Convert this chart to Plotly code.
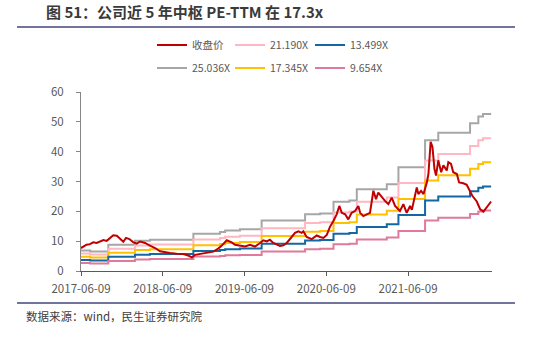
import plotly.graph_objects as go

# ---------------- data ----------------
band_dates = ["2017-06-09", "2017-07-20", "2017-10-09", "2018-02-05", "2018-04-13",
              "2018-10-24", "2019-02-20", "2019-03-15", "2019-05-20", "2019-08-25",
              "2020-03-06", "2020-05-12", "2020-07-11", "2020-09-20", "2020-10-23",
              "2021-03-06", "2021-04-27", "2021-08-24", "2021-10-22", "2022-03-13",
              "2022-04-19", "2022-05-10", "2022-06-15"]

pe_25036 = [6.9, 6.5, 8.8, 10.1, 10.5, 12.5, 13.1, 13.6, 14.0, 16.9, 19.0, 19.3, 23.2, 23.6,
            27.4, 29.1, 34.8, 43.8, 46.3, 49.5, 51.8, 52.6, 52.6]
pe_21190 = [5.84, 5.50, 7.45, 8.55, 8.89, 10.58, 11.09, 11.51, 11.85, 14.30, 16.08, 16.34,
            19.64, 19.98, 23.19, 24.63, 29.46, 37.07, 39.19, 41.90, 43.84, 44.52, 44.52]
pe_17345 = [4.78, 4.50, 6.10, 7.00, 7.27, 8.66, 9.08, 9.42, 9.70, 11.71, 13.16, 13.37,
            16.07, 16.35, 18.98, 20.16, 24.11, 30.34, 32.08, 34.29, 35.89, 36.44, 36.44]
pe_13499 = [3.72, 3.50, 4.74, 5.45, 5.66, 6.74, 7.06, 7.33, 7.55, 9.11, 10.24, 10.41,
            12.51, 12.73, 14.77, 15.69, 18.76, 23.62, 24.96, 26.69, 27.93, 28.36, 28.36]
pe_9654 = [2.66, 2.51, 3.39, 3.89, 4.05, 4.82, 5.05, 5.24, 5.40, 6.52, 7.33, 7.44,
           8.95, 9.10, 10.57, 11.22, 13.42, 16.89, 17.85, 19.09, 19.97, 20.28, 20.28]

price_dates = [
    "2017-06-09", "2017-06-19", "2017-07-04", "2017-07-19", "2017-08-03", "2017-08-18",
    "2017-09-02", "2017-09-17", "2017-10-02", "2017-10-17", "2017-10-31", "2017-11-16",
    "2017-11-30", "2017-12-15", "2017-12-27", "2018-01-11", "2018-01-29", "2018-02-13",
    "2018-02-28", "2018-03-22", "2018-04-13", "2018-05-06", "2018-05-28", "2018-06-19",
    "2018-07-12", "2018-08-11", "2018-09-09", "2018-10-01", "2018-10-17", "2018-10-31",
    "2018-11-23", "2018-12-23", "2019-01-21", "2019-02-12", "2019-02-28", "2019-03-22",
    "2019-04-13", "2019-04-28", "2019-05-20", "2019-06-12", "2019-07-04", "2019-07-26",
    "2019-08-18", "2019-09-02", "2019-09-17", "2019-10-01", "2019-10-16", "2019-10-31",
    "2019-11-15", "2019-11-30", "2019-12-15", "2020-01-06", "2020-01-21", "2020-02-05",
    "2020-02-20", "2020-02-27", "2020-03-13", "2020-04-05", "2020-04-27", "2020-05-12",
    "2020-05-27", "2020-06-11", "2020-06-25", "2020-07-10", "2020-07-25", "2020-08-06",
    "2020-08-17", "2020-09-01", "2020-09-15", "2020-09-30", "2020-10-15", "2020-10-30",
    "2020-11-07", "2020-11-21", "2020-12-07", "2020-12-21", "2021-01-05", "2021-01-17",
    "2021-01-27", "2021-02-12", "2021-02-26", "2021-03-13", "2021-03-28", "2021-04-12",
    "2021-05-04", "2021-05-19", "2021-06-03", "2021-06-18", "2021-06-26", "2021-07-18",
    "2021-07-25", "2021-08-06", "2021-08-17", "2021-09-01", "2021-09-08", "2021-09-18",
    "2021-09-26", "2021-10-05", "2021-10-12", "2021-10-22", "2021-11-04", "2021-11-14",
    "2021-11-29", "2021-12-06", "2021-12-18", "2021-12-28", "2022-01-13", "2022-01-23",
    "2022-02-11", "2022-02-26", "2022-03-13", "2022-03-23", "2022-04-12", "2022-04-27",
    "2022-05-12", "2022-05-24", "2022-06-03", "2022-06-15"]
price = [
    7.7, 8.2, 8.8, 9.0, 9.6, 9.4,
    9.9, 10.4, 10.1, 11.1, 12.0, 11.8,
    10.8, 9.8, 11.1, 10.7, 9.6, 9.2,
    9.9, 9.4, 8.5, 7.7, 6.6, 6.2,
    6.0, 5.8, 5.7, 5.2, 4.6, 5.4,
    5.7, 6.0, 6.5, 7.5, 8.5, 10.3,
    9.6, 8.8, 8.5, 8.2, 8.8, 8.2,
    9.4, 10.3, 9.9, 10.5, 9.4, 9.0,
    8.4, 8.6, 9.4, 11.4, 12.8, 13.3,
    12.8, 13.3, 11.4, 10.7, 11.9, 11.4,
    11.1, 12.1, 14.8, 16.7, 19.0, 21.8,
    19.5, 19.0, 17.3, 19.5, 20.1, 21.8,
    19.5, 18.4, 18.9, 19.5, 26.9, 24.1,
    26.3, 24.6, 23.5, 22.4, 24.6, 21.8,
    20.1, 22.4, 19.5, 21.8, 20.5, 28.0,
    25.8, 26.9, 25.8, 29.7, 32.5, 43.3,
    41.6, 34.2, 32.0, 37.1, 33.1, 35.4,
    33.7, 36.5, 35.9, 33.1, 32.5, 29.7,
    29.4, 28.9, 26.9, 25.2, 23.3, 20.7,
    19.9, 21.2, 22.4, 23.3]

tick_dates = ["2017-06-09", "2018-06-09", "2019-06-09", "2020-06-09", "2021-06-09"]
y_ticks = [0, 10, 20, 30, 40, 50, 60]

# ---------------- figure ----------------
W, H = 539, 339
ML, MR, MT, MB = 81, 47, 92, 68
PW, PH = W - ML - MR, H - MT - MB


def px(x):
    return (x - ML) / PW


def py(y):
    return (H - MB - y) / PH


FONT = "Noto Sans CJK SC, Microsoft YaHei, sans-serif"

fig = go.Figure()

# (name, values, colour, legend id, legend left px, legend row centre px)
bands = [
    ("25.036X", pe_25036, "#A6A6A6", "legend4", 152, 68),
    ("21.190X", pe_21190, "#FFB7C2", "legend2", 230, 45),
    ("17.345X", pe_17345, "#FFC000", "legend5", 230, 68),
    ("13.499X", pe_13499, "#1467A3", "legend3", 310, 45),
    ("9.654X", pe_9654, "#E07A9C", "legend6", 310, 68),
]
legend_pos = {"legend": (152, 45)}
for name, vals, color, lg, lx, ly in bands:
    fig.add_trace(go.Scatter(
        x=band_dates, y=vals, name=name, mode="lines",
        line=dict(color=color, width=2, shape="hv"),
        legend=lg, hoverinfo="skip"))
    legend_pos[lg] = (lx, ly)

fig.add_trace(go.Scatter(
    x=price_dates, y=price, name="收盘价", mode="lines",
    line=dict(color="#C00000", width=2),
    legend="legend", hoverinfo="skip"))

leg_layout = {}
for lg, (lx, ly) in legend_pos.items():
    leg_layout[lg] = dict(orientation="h", xanchor="left", yanchor="middle",
                          x=px(lx), y=py(ly),
                          bgcolor="rgba(0,0,0,0)", borderwidth=0,
                          font=dict(family=FONT, size=10.5, color="#595959"))

fig.update_layout(
    width=W, height=H,
    margin=dict(l=ML, r=MR, t=MT, b=MB, pad=0),
    paper_bgcolor="white", plot_bgcolor="white",
    showlegend=True,
    font=dict(family=FONT, size=11, color="#595959"),
    title=dict(text="<b>图 51：公司近 5 年中枢 PE-TTM 在 17.3x</b>",
               xref="container", yref="container", x=46 / W, y=1 - 13 / H,
               xanchor="left", yanchor="middle",
               font=dict(family=FONT, size=15, color="#3A3A3A")),
    xaxis=dict(
        type="date", range=["2017-06-09", "2022-06-19"],
        tickmode="array", tickvals=tick_dates, ticktext=tick_dates,
        showgrid=False, zeroline=False,
        showline=True, linecolor="#595959", linewidth=1,
        ticks="outside", ticklen=4, tickcolor="#595959",
        ticklabelstandoff=3,
        tickfont=dict(family=FONT, size=11.5, color="#595959"),
    ),
    yaxis=dict(
        range=[0, 60], tickmode="array", tickvals=y_ticks,
        showgrid=False, zeroline=False,
        showline=True, linecolor="#868686", linewidth=1,
        ticks="outside", ticklen=4, tickcolor="#868686",
        ticklabelstandoff=10,
        tickfont=dict(family=FONT, size=11.5, color="#595959"),
    ),
    shapes=[
        dict(type="line", xref="paper", yref="paper", x0=px(17), x1=px(515),
             y0=py(27), y1=py(27), line=dict(color="#44467A", width=1.5)),
        dict(type="line", xref="paper", yref="paper", x0=px(17), x1=px(515),
             y0=py(303), y1=py(303), line=dict(color="#44467A", width=1.5)),
    ],
    annotations=[
        dict(text="数据来源：wind，民生证券研究院", xref="paper", yref="paper",
             x=px(24), y=py(316), xanchor="left", yanchor="middle", showarrow=False,
             font=dict(family=FONT, size=11.5, color="#404040")),
    ],
    **leg_layout,
)

fig.write_html("out.html")
